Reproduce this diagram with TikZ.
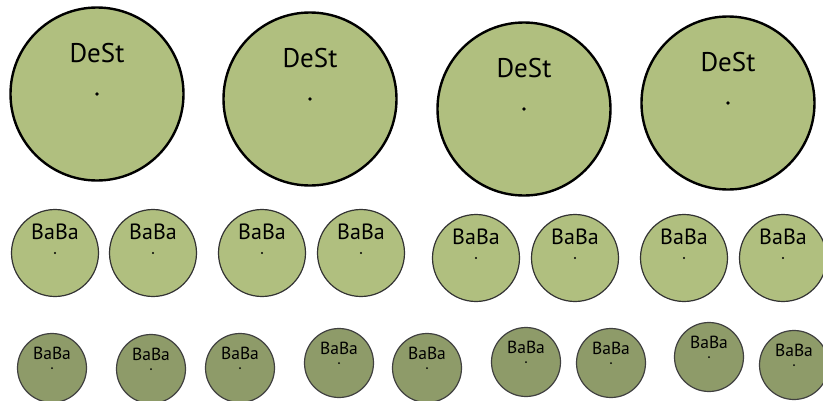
\documentclass[tikz,border=0pt]{standalone}
\usepackage{fontspec}
\setmainfont{PT Sans}
\definecolor{leaf}{RGB}{176,191,127}
\definecolor{moss}{RGB}{142,155,105}
\begin{document}
\begin{tikzpicture}[
        x=1pt, y=-1pt,
        dest/.style={circle, draw=black, line width=2.4pt, fill=leaf, minimum size=173pt, inner sep=0pt,
            path picture={\fill[black] (path picture bounding box.center) circle (1.9pt);},
            label={[font=\fontsize{27}{27}\selectfont, yshift=41pt]center:DeSt}},
        bababig/.style={circle, draw=black!80, line width=1.2pt, fill=leaf, minimum size=87pt, inner sep=0pt,
            path picture={\fill[black] (path picture bounding box.center) circle (1.1pt);},
            label={[font=\fontsize{22}{22}\selectfont, yshift=21pt]center:BaBa}},
        babasmall/.style={circle, draw=black!75, line width=1.2pt, fill=moss, minimum size=69pt, inner sep=0pt,
            path picture={\fill[black] (path picture bounding box.center) circle (1pt);},
            label={[font=\fontsize{17.5}{17.5}\selectfont, yshift=15pt]center:BaBa}}
    ]
        \useasboundingbox (0,0) rectangle (823,400);

        % DeSt (absolute positioning)
        \node[dest] (dest1) at (97,94) {};
        \node[dest] (dest2) at (310,99) {};
        \node[dest] (dest3) at (524,109) {};
        \node[dest] (dest4) at (728,103) {};

        % BaBa, middle row
        \node[bababig] (bb1) at (55,253) {};
        \node[bababig] (bb2) at (153,253) {};
        \node[bababig] (bb3) at (262,253) {};
        \node[bababig] (bb4) at (361,253) {};
        \node[bababig] (bb5) at (476,258) {};
        \node[bababig] (bb6) at (575,258) {};
        \node[bababig] (bb7) at (684,258) {};
        \node[bababig] (bb8) at (783,258) {};

        % BaBa, bottom row
        \node[babasmall] (bs1) at (52,368) {};
        \node[babasmall] (bs2) at (151,369) {};
        \node[babasmall] (bs3) at (240,368) {};
        \node[babasmall] (bs4) at (339,363) {};
        \node[babasmall] (bs5) at (427,368) {};
        \node[babasmall] (bs6) at (526,362) {};
        \node[babasmall] (bs7) at (611,363) {};
        \node[babasmall] (bs8) at (709,357) {};
        \node[babasmall] (bs9) at (794,365) {};

    \end{tikzpicture}
\end{document}
